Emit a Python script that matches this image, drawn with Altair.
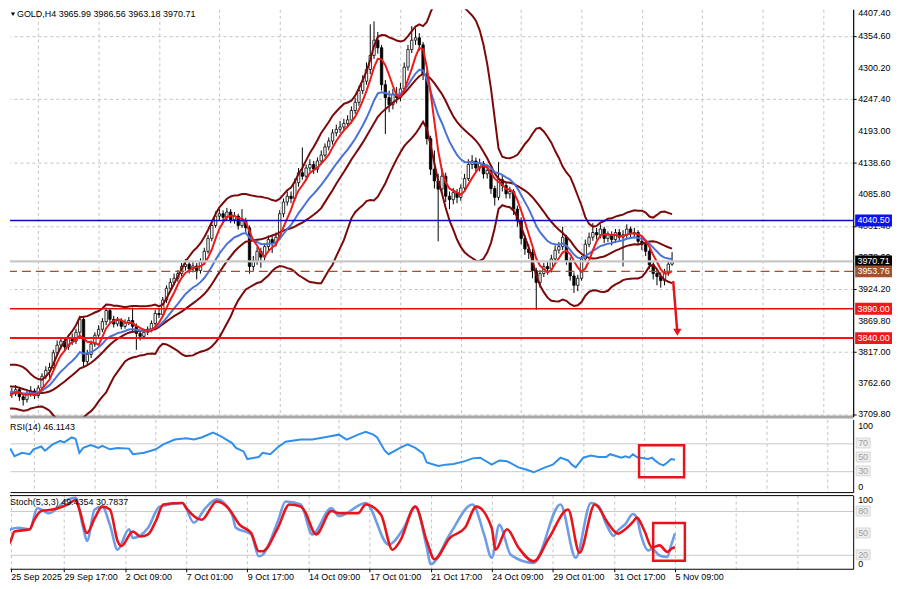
import json
import pandas as pd
import altair as alt

# ---------------- data ----------------
symbol = "GOLD,H4"
warmup_closes = [3745, 3760, 3770, 3778, 3785, 3790, 3780, 3772, 3778, 3765,
                 3758, 3750, 3745, 3738, 3730, 3725, 3735, 3742, 3752]
closes = [3748, 3745, 3752, 3740, 3735, 3745, 3750, 3742, 3755, 3775,
          3785, 3790, 3815, 3828, 3835, 3825, 3840, 3835, 3850, 3872,
          3800, 3812, 3830, 3845, 3855, 3868, 3887, 3872, 3864, 3870,
          3860, 3866, 3870, 3860, 3848, 3843, 3850, 3855, 3865, 3882,
          3880, 3905, 3925, 3935, 3942, 3950, 3962, 3966, 3958, 3963,
          3955, 3970, 3988, 4010, 4032, 4048, 4052, 4046, 4055, 4042,
          4048, 4032, 4040, 4028, 3962, 3972, 3988, 3978, 3996, 4008,
          4002, 4012, 4052, 4072, 4082, 4078, 4105, 4122, 4116, 4130,
          4136, 4128, 4142, 4152, 4166, 4176, 4190, 4196, 4200, 4206,
          4212, 4228, 4242, 4262, 4278, 4298, 4322, 4348, 4335, 4272,
          4250, 4238, 4256, 4250, 4265, 4302, 4332, 4348, 4352, 4340,
          4290, 4180, 4128, 4108, 4094, 4116, 4082, 4076, 4088, 4080,
          4096, 4112, 4136, 4142, 4130, 4138, 4120, 4126, 4095, 4080,
          4110, 4100, 4086, 4090, 4060, 4040, 4010, 3992, 3986, 3955,
          3935, 3950, 3962, 3958, 3975, 3990, 3996, 4012, 3972, 3946,
          3930, 3942, 3975, 4000, 4012, 4020, 4016, 4026, 4010, 4016,
          4008, 4020, 4012, 4016, 4026, 4018, 4020, 4005, 4000, 3988,
          3965, 3950, 3945, 3938, 3952, 3965.99, 3970.71]
highs = [3758, 3755, 3760, 3756, 3746, 3750, 3758, 3754, 3760, 3780,
         3792, 3798, 3820, 3836, 3842, 3840, 3846, 3848, 3856, 3878,
         3876, 3820, 3836, 3850, 3862, 3874, 3892, 3890, 3878, 3876,
         3874, 3872, 3876, 3892, 3865, 3854, 3856, 3860, 3870, 3888,
         3890, 3910, 3930, 3942, 3950, 3956, 3968, 3975, 3972, 3970,
         3968, 3976, 3994, 4016, 4038, 4056, 4060, 4058, 4062, 4060,
         4055, 4052, 4060, 4045, 4032, 3980, 3995, 3994, 4002, 4015,
         4014, 4020, 4058, 4078, 4090, 4090, 4112, 4130, 4165, 4136,
         4145, 4142, 4148, 4160, 4172, 4182, 4196, 4204, 4210, 4214,
         4220, 4235, 4250, 4270, 4288, 4310, 4375, 4380, 4362, 4340,
         4280, 4262, 4265, 4268, 4275, 4310, 4340, 4372, 4368, 4360,
         4345, 4295, 4185, 4160, 4120, 4130, 4122, 4090, 4096, 4094,
         4102, 4120, 4145, 4152, 4148, 4146, 4142, 4134, 4130, 4100,
         4140, 4118, 4106, 4098, 4094, 4066, 4046, 4016, 4000, 3992,
         3960, 3956, 3968, 3970, 3982, 3998, 4004, 4030, 4016, 3978,
         3952, 3948, 3980, 4008, 4020, 4036, 4028, 4034, 4030, 4022,
         4022, 4026, 4026, 4024, 4034, 4030, 4028, 4024, 4012, 4006,
         3992, 3970, 3958, 3952, 3958, 3972, 3986.56]
lows = [3740, 3738, 3741, 3733, 3725, 3730, 3740, 3736, 3738, 3752,
        3770, 3768, 3786, 3810, 3822, 3818, 3820, 3828, 3830, 3845,
        3792, 3794, 3806, 3825, 3840, 3850, 3862, 3866, 3858, 3860,
        3855, 3856, 3862, 3852, 3820, 3836, 3838, 3845, 3850, 3860,
        3874, 3876, 3900, 3918, 3930, 3936, 3945, 3955, 3950, 3952,
        3940, 3950, 3965, 3984, 4005, 4028, 4040, 4038, 4040, 4036,
        4035, 4025, 4028, 4020, 3950, 3955, 3965, 3960, 3972, 3990,
        3985, 3996, 4008, 4046, 4066, 4070, 4074, 4098, 4110, 4110,
        4124, 4120, 4122, 4136, 4148, 4160, 4170, 4184, 4190, 4194,
        4200, 4206, 4222, 4236, 4256, 4272, 4290, 4316, 4325, 4262,
        4188, 4225, 4230, 4240, 4244, 4260, 4296, 4326, 4340, 4330,
        4280, 4170, 4118, 4095, 4005, 4085, 4072, 4060, 4068, 4070,
        4074, 4090, 4108, 4128, 4122, 4124, 4112, 4112, 4086, 4066,
        4075, 4090, 4078, 4078, 4050, 4030, 4000, 3982, 3975, 3942,
        3888, 3926, 3944, 3948, 3952, 3970, 3984, 3990, 3965, 3938,
        3917, 3920, 3938, 3970, 3995, 4006, 4008, 4010, 4002, 4004,
        3998, 4002, 4005, 3962, 4010, 4012, 4010, 3998, 3990, 3980,
        3958, 3940, 3930, 3926, 3930, 3946, 3963.18]

date_labels = ["25 Sep 2025", "29 Sep 17:00", "2 Oct 09:00", "7 Oct 01:00",
               "9 Oct 17:00", "14 Oct 09:00", "17 Oct 01:00", "21 Oct 17:00",
               "24 Oct 09:00", "29 Oct 01:00", "31 Oct 17:00", "5 Nov 09:00"]
date_label_bars = [0, 16, 32, 48, 64, 80, 96, 112, 128, 144, 160, 176]
price_ticks = [4407.40, 4354.60, 4300.20, 4247.40, 4193.00, 4138.60, 4085.80,
               4031.40, 3978.60, 3924.20, 3869.80, 3817.00, 3762.60, 3709.80]

level_prices = [4040.50, 3970.71, 3953.76, 3890.00, 3840.00]
level_line_colors = ["#0A0ACD", "#C8C8C8", "#A0522D", "#E01010", "#FF1010"]
level_box_colors = ["#0A10F0", "#000000", "#A0522D", "#F01818", "#F01818"]
level_widths = [1.6, 2.2, 1.4, 1.6, 2.0]
level_dashed = [False, False, True, False, False]

rsi_levels = [30, 50, 70]
stoch_levels = [20, 50, 80]

rsi_bars = [0, 2, 3, 5, 7, 8, 10, 11, 13, 15, 16, 18, 19, 20, 21, 23, 25, 26, 28, 30,
            33, 34, 37, 40, 42, 45, 48, 50, 52, 55, 57, 60, 61, 63, 64, 67, 68, 70, 72, 74,
            78, 81, 85, 88, 90, 93, 95, 97, 98, 100, 101, 104, 106, 108, 110, 111, 114, 116, 118, 121,
            123, 125, 128, 130, 132, 135, 137, 139, 142, 144, 146, 148, 149, 150, 152, 154, 156, 158, 159, 162,
            163, 164, 165, 166, 167, 169, 170, 171, 172, 173, 174, 175, 176]
rsi_vals = [56, 61, 51, 56, 54, 61, 65, 59, 68, 73, 71, 78, 76, 56, 63, 67, 63, 66, 61, 63,
            62, 54, 56, 61, 68, 75, 77, 75, 78, 85, 80, 70, 63, 58, 47, 50, 56, 54, 64, 72,
            75, 75, 79, 82, 75, 82, 86, 82, 78, 59, 54, 63, 68, 63, 55, 42, 37, 39, 40, 44,
            48, 49, 39, 45, 44, 35, 32, 28, 35, 39, 49, 45, 39, 35, 49, 52, 50, 50, 54, 49,
            51, 49, 54, 50, 49, 47, 49, 44, 40, 38, 42, 47, 46.1143]

stoch_k_bars = [0, 2, 4, 7, 9, 12, 17, 19, 21, 22, 24, 26, 28, 30, 33, 34, 38, 41, 47, 50,
                53, 56, 60, 61, 65, 67, 68, 72, 74, 78, 81, 86, 88, 95, 101, 105, 108, 111, 112, 117,
                123, 126, 128, 130, 133, 139, 146, 150, 154, 156, 158, 160, 161, 163, 165, 166, 167, 169, 170, 172,
                174, 175, 176]
stoch_k_vals = [25, 55, 57, 55, 84, 77, 96, 98, 57, 39, 82, 86, 61, 27, 55, 43, 57, 86, 91, 64,
                84, 96, 75, 57, 48, 18, 20, 66, 93, 89, 48, 84, 73, 91, 34, 57, 86, 30, 7, 48,
                89, 48, 16, 61, 20, 9, 89, 16, 91, 87, 62, 46, 53, 62, 76, 71, 49, 26, 28, 19,
                17, 33, 49.4354]
stoch_d_bars = [0, 2, 3, 7, 8, 10, 13, 17, 19, 20, 22, 24, 26, 28, 30, 31, 34, 36, 38, 40,
                42, 47, 48, 52, 56, 59, 62, 65, 67, 68, 72, 75, 78, 79, 82, 86, 88, 93, 95, 99,
                102, 104, 108, 111, 113, 117, 121, 124, 128, 129, 132, 135, 139, 143, 148, 151, 155, 156, 158, 160,
                161, 163, 165, 166, 168, 170, 172, 174, 175, 176]
stoch_d_vals = [25, 39, 52, 55, 66, 80, 82, 89, 95, 82, 50, 70, 86, 82, 39, 32, 52, 45, 48, 66,
                89, 91, 84, 68, 93, 84, 61, 50, 25, 25, 57, 89, 86, 80, 48, 80, 77, 77, 89, 75,
                27, 39, 86, 39, 14, 43, 57, 86, 57, 27, 55, 30, 11, 43, 82, 23, 89, 85, 67, 53,
                49, 55, 65, 71, 53, 30, 33, 24, 28, 30.7837]

arrow_bars = [176.3, 177.4]
arrow_prices = [3937.0, 3850.0]
rsi_box_bars = [166.6, 178.4]
rsi_box_vals = [66.7, 21.0]
stoch_box_bars = [170.3, 178.6]
stoch_box_vals = [63.6, 11.8]

# ---------------- layout ----------------
W = 847
H_MAIN, H_RSI, H_ST = 409, 73, 74
PXB = 3.835
X0, X1 = (8 - 1) / PXB, (855 - 1) / PXB
PPP = 1.6973
Y_TOP = 4407.4 - (8 - 4) * PPP
Y_BOT = 4407.4 - (417 - 4) * PPP
RSI_PX = 0.7
ST_PX = 0.7333
RSI_DOM = [(492.7 - 493) / RSI_PX, (492.7 - 420) / RSI_PX]
ST_DOM = [(570.67 - 570) / ST_PX, (570.67 - 496) / ST_PX]
FONT = "Liberation Sans"

# ---------------- tables ----------------
n = len(closes)
all_close = pd.Series(warmup_closes + closes, dtype=float)
all_open = all_close.shift(1)
sma20 = all_close.rolling(20).mean()
sd20 = all_close.rolling(20).std(ddof=0)
ema = all_close.ewm(span=14, adjust=False).mean()
sma5 = all_close.rolling(5).mean()
k = len(warmup_closes)

df = pd.DataFrame({
    "bar": list(range(n)),
    "open": all_open.iloc[k:].values,
    "close": closes,
    "high": highs,
    "low": lows,
    "bb_mid": sma20.iloc[k:].values,
    "bb_up": (sma20 + 2 * sd20).iloc[k:].values,
    "bb_lo": (sma20 - 2 * sd20).iloc[k:].values,
    "ma_blue": ema.iloc[k:].values,
    "ma_red": sma5.iloc[k:].values,
})

lv = pd.DataFrame({
    "price": level_prices,
    "lcolor": level_line_colors,
    "bcolor": level_box_colors,
    "lw": level_widths,
    "dashed": level_dashed,
    "label": [f"{p:.2f}" for p in level_prices],
})
lv["top"] = lv["price"] + 6 * PPP
lv["bot"] = lv["price"] - 6 * PPP

grid_vals = list(range(8, 223, 8))
ytick_vals = [p for p in price_ticks if Y_BOT <= p <= Y_TOP]
ytick_df = pd.DataFrame({"p": ytick_vals, "t": [f"{p:.2f}" for p in ytick_vals]})

xsc = alt.Scale(domain=[X0, X1], nice=False, zero=False)
ysc = alt.Scale(domain=[Y_BOT, Y_TOP], nice=False, zero=False)

xax_main = alt.Axis(values=grid_vals, labels=False, ticks=False, grid=True,
                    gridDash=[3, 3], gridColor="#C4C4C4", domainColor="#A8A8A8",
                    domainWidth=3, title=None)
yax_main = alt.Axis(orient="right", values=ytick_vals, labels=False, grid=True,
                    gridDash=[3, 3], gridColor="#C4C4C4", domainColor="#000000",
                    domainWidth=1.2, tickColor="#000000", tickSize=3, title=None)

base = alt.Chart(df)
wick = base.mark_rule(color="#000000", strokeWidth=1, clip=True).encode(
    x=alt.X("bar:Q", scale=xsc, axis=xax_main),
    y=alt.Y("low:Q", scale=ysc, axis=yax_main),
    y2="high:Q")
body = base.mark_bar(width=2.4, stroke="#000000", strokeWidth=0.8, clip=True).encode(
    x=alt.X("bar:Q", title=None),
    y=alt.Y("open:Q", title=None),
    y2="close:Q",
    fill=alt.condition("datum.close >= datum.open", alt.value("#FFFFFF"), alt.value("#000000")))

def ind_line(field, color, w):
    return base.mark_line(color=color, strokeWidth=w, clip=True).encode(
        x=alt.X("bar:Q", title=None), y=alt.Y(f"{field}:Q", title=None))

bb_up = ind_line("bb_up", "#7A0A0A", 2)
bb_mid = ind_line("bb_mid", "#7A0A0A", 2)
bb_lo = ind_line("bb_lo", "#7A0A0A", 2)
ma_b = ind_line("ma_blue", "#4A72D8", 2)
ma_r = ind_line("ma_red", "#EE1A1A", 2)

ytick_txt = alt.Chart(ytick_df).mark_text(
    align="left", baseline="middle", font=FONT, fontSize=9, color="#000000").encode(
    x=alt.value(W + 5), y=alt.Y("p:Q", title=None), text="t:N")

lv_chart = alt.Chart(lv)
lv_solid = lv_chart.transform_filter("!datum.dashed").mark_rule().encode(
    y=alt.Y("price:Q", title=None),
    color=alt.Color("lcolor:N", scale=None),
    strokeWidth=alt.StrokeWidth("lw:Q", scale=None))
lv_dash = lv_chart.transform_filter("datum.dashed").mark_rule(strokeDash=[9, 5]).encode(
    y=alt.Y("price:Q", title=None),
    color=alt.Color("lcolor:N", scale=None),
    strokeWidth=alt.StrokeWidth("lw:Q", scale=None))
lv_box = lv_chart.mark_rect().encode(
    x=alt.value(W + 2), x2=alt.value(W + 39),
    y=alt.Y("top:Q", title=None), y2="bot:Q",
    color=alt.Color("bcolor:N", scale=None))
lv_txt = lv_chart.mark_text(align="center", baseline="middle", font=FONT, fontSize=9,
                            color="#FFFFFF").encode(
    x=alt.value(W + 20.5), y=alt.Y("price:Q", title=None), text="label:N")

top_lbl = alt.Chart(pd.DataFrame({"t": [f"{price_ticks[0]:.2f}"]})).mark_text(
    align="left", baseline="top", font=FONT, fontSize=9, color="#000000").encode(
    x=alt.value(W + 5), y=alt.value(0), text="t:N")

last = df.iloc[-1]
header = f"{symbol}  {last['open']:.2f} {last['high']:.2f} {last['low']:.2f} {last['close']:.2f}"
head_txt = alt.Chart(pd.DataFrame({"t": [header]})).mark_text(
    align="left", baseline="top", font=FONT, fontSize=9, color="#000000").encode(
    x=alt.value(7), y=alt.value(1), text="t:N")
head_tri = alt.Chart(pd.DataFrame({"t": [1]})).mark_point(
    shape="triangle-down", filled=True, size=18, color="#000000", opacity=1).encode(
    x=alt.value(3), y=alt.value(5))

arrow_df = pd.DataFrame({"b0": [arrow_bars[0]], "b1": [arrow_bars[1]],
                         "p0": [arrow_prices[0]], "p1": [arrow_prices[1]]})
arrow_line = alt.Chart(arrow_df).mark_rule(color="#E8141B", strokeWidth=2.5).encode(
    x=alt.X("b0:Q", title=None), x2="b1:Q", y=alt.Y("p0:Q", title=None), y2="p1:Q")
arrow_head = alt.Chart(arrow_df).mark_point(shape="triangle-down", filled=True, size=70,
                                            color="#E8141B", opacity=1).encode(
    x=alt.X("b1:Q", title=None), y=alt.Y("p1:Q", title=None))

main = alt.layer(wick, body, bb_up, bb_mid, bb_lo, ma_b, ma_r, lv_solid, lv_dash,
                 arrow_line, arrow_head, ytick_txt, lv_box, lv_txt, top_lbl, head_tri, head_txt
                 ).properties(width=W, height=H_MAIN)


def level_label_layers(levels, px_per_unit):
    half = 5.0 / px_per_unit
    ldf = pd.DataFrame({"v": levels, "t": [str(v) for v in levels]})
    ldf["top"] = ldf["v"] + half
    ldf["bot"] = ldf["v"] - half
    box = alt.Chart(ldf).mark_rect(color="#EEEEEE", stroke="#D0D0D0", strokeWidth=0.8).encode(
        x=alt.value(W + 3), x2=alt.value(W + 17), y=alt.Y("top:Q", title=None), y2="bot:Q")
    txt = alt.Chart(ldf).mark_text(align="left", baseline="middle", font=FONT, fontSize=9,
                                   color="#A0A0A0").encode(
        x=alt.value(W + 5), y=alt.Y("v:Q", title=None), text="t:N")
    return [box, txt]


# ---------------- RSI panel ----------------
xax_sub = alt.Axis(values=grid_vals, labels=False, ticks=False, grid=True, gridDash=[3, 3],
                   gridColor="#C4C4C4", domainColor="#000000", domainWidth=1, title=None)
rsi_sc = alt.Scale(domain=RSI_DOM, nice=False, zero=False)
yax_rsi = alt.Axis(orient="right", values=rsi_levels, grid=True, gridColor="#CACACA",
                   domainColor="#000000", ticks=False, labels=False, title=None)
rsi_df = pd.DataFrame({"bar": rsi_bars, "v": rsi_vals})
rsi_line = alt.Chart(rsi_df).mark_line(color="#2F8FEA", strokeWidth=2, clip=True).encode(
    x=alt.X("bar:Q", scale=xsc, axis=xax_sub), y=alt.Y("v:Q", scale=rsi_sc, axis=yax_rsi))
rb = pd.DataFrame({"b0": [rsi_box_bars[0]], "b1": [rsi_box_bars[1]],
                   "v0": [rsi_box_vals[0]], "v1": [rsi_box_vals[1]]})
rsi_box = alt.Chart(rb).mark_rect(filled=False, color="#E8141B", strokeWidth=2.5).encode(
    x=alt.X("b0:Q", title=None), x2="b1:Q", y=alt.Y("v0:Q", title=None), y2="v1:Q")
rsi_title = alt.Chart(pd.DataFrame({"t": [f"RSI(14) {rsi_vals[-1]:.4f}"]})).mark_text(
    align="left", baseline="middle", font=FONT, fontSize=9, color="#000000").encode(
    x=alt.value(0), y=alt.value(8), text="t:N")
rsi_top = alt.Chart(pd.DataFrame({"v": [100]})).mark_text(
    align="left", baseline="top", font=FONT, fontSize=9, color="#000000").encode(
    x=alt.value(W + 5), y=alt.Y("v:Q", title=None), text=alt.Text("v:Q"))
rsi_bot = alt.Chart(pd.DataFrame({"v": [0]})).mark_text(
    align="left", baseline="bottom", font=FONT, fontSize=9, color="#000000").encode(
    x=alt.value(W + 5), y=alt.Y("v:Q", title=None), text=alt.Text("v:Q"))
rsi = alt.layer(rsi_line, rsi_box, rsi_title, rsi_top, rsi_bot,
                *level_label_layers(rsi_levels, RSI_PX)).properties(width=W, height=H_RSI)

# ---------------- Stochastic panel ----------------
lbl_vals = [max(b, 2.0) for b in date_label_bars]
LB = json.dumps(lbl_vals)
LT = json.dumps(date_labels)
st_x_vals = sorted(set(grid_vals) | set(lbl_vals))
xax_st = alt.Axis(values=st_x_vals, grid=True, gridDash=[3, 3], gridColor="#C4C4C4",
                  domainColor="#000000", domainWidth=1, tickColor="#000000", tickSize=3,
                  tickOpacity={"condition": {"test": f"indexof({LB}, datum.value) >= 0", "value": 1}, "value": 0},
                  labelExpr=f"indexof({LB}, datum.value) >= 0 ? {LT}[indexof({LB}, datum.value)] : ''",
                  labelAlign="left", labelBaseline="top", labelPadding=1, labelFont=FONT,
                  labelFontSize=9, labelColor="#000000", labelOverlap=False, labelFlush=False,
                  labelBound=False, title=None)
st_sc = alt.Scale(domain=ST_DOM, nice=False, zero=False)
yax_st = alt.Axis(orient="right", values=stoch_levels, grid=True, gridColor="#CACACA",
                  domainColor="#000000", ticks=False, labels=False, title=None)
k_df = pd.DataFrame({"bar": stoch_k_bars, "v": stoch_k_vals})
d_df = pd.DataFrame({"bar": stoch_d_bars, "v": stoch_d_vals})
k_line = alt.Chart(k_df).mark_line(color="#6E9DE6", strokeWidth=2.6, clip=True,
                                   interpolate="monotone").encode(
    x=alt.X("bar:Q", scale=xsc, axis=xax_st), y=alt.Y("v:Q", scale=st_sc, axis=yax_st))
d_line = alt.Chart(d_df).mark_line(color="#E8141B", strokeWidth=2.6, clip=True,
                                   interpolate="monotone").encode(
    x=alt.X("bar:Q", title=None), y=alt.Y("v:Q", title=None))
sb = pd.DataFrame({"b0": [stoch_box_bars[0]], "b1": [stoch_box_bars[1]],
                   "v0": [stoch_box_vals[0]], "v1": [stoch_box_vals[1]]})
st_box = alt.Chart(sb).mark_rect(filled=False, color="#E8141B", strokeWidth=2.5).encode(
    x=alt.X("b0:Q", title=None), x2="b1:Q", y=alt.Y("v0:Q", title=None), y2="v1:Q")
st_title = alt.Chart(pd.DataFrame(
    {"t": [f"Stoch(5,3,3) {stoch_k_vals[-1]:.4f} {stoch_d_vals[-1]:.4f}"]})).mark_text(
    align="left", baseline="middle", font=FONT, fontSize=9, color="#000000").encode(
    x=alt.value(0), y=alt.value(7), text="t:N")
st_top = alt.Chart(pd.DataFrame({"v": [100]})).mark_text(
    align="left", baseline="top", font=FONT, fontSize=9, color="#000000").encode(
    x=alt.value(W + 5), y=alt.Y("v:Q", title=None), text=alt.Text("v:Q"))
st_bot = alt.Chart(pd.DataFrame({"v": [0]})).mark_text(
    align="left", baseline="bottom", font=FONT, fontSize=9, color="#000000").encode(
    x=alt.value(W + 5), y=alt.Y("v:Q", title=None), text=alt.Text("v:Q"))
st_sep = alt.Chart(pd.DataFrame({"v": [1]})).mark_rule(color="#000000", strokeWidth=1).encode(
    x=alt.value(0), x2=alt.value(W), y=alt.value(0.5))
stoch = alt.layer(k_line, d_line, st_box, st_title, st_top, st_bot, st_sep,
                  *level_label_layers(stoch_levels, ST_PX)).properties(width=W, height=H_ST)

chart = alt.vconcat(main, rsi, stoch, spacing=3, bounds="flush").properties(
    padding=0, background="#FFFFFF"
).configure_view(stroke=None)

chart.save("out.html", embed_options={"renderer": "svg", "actions": False})
